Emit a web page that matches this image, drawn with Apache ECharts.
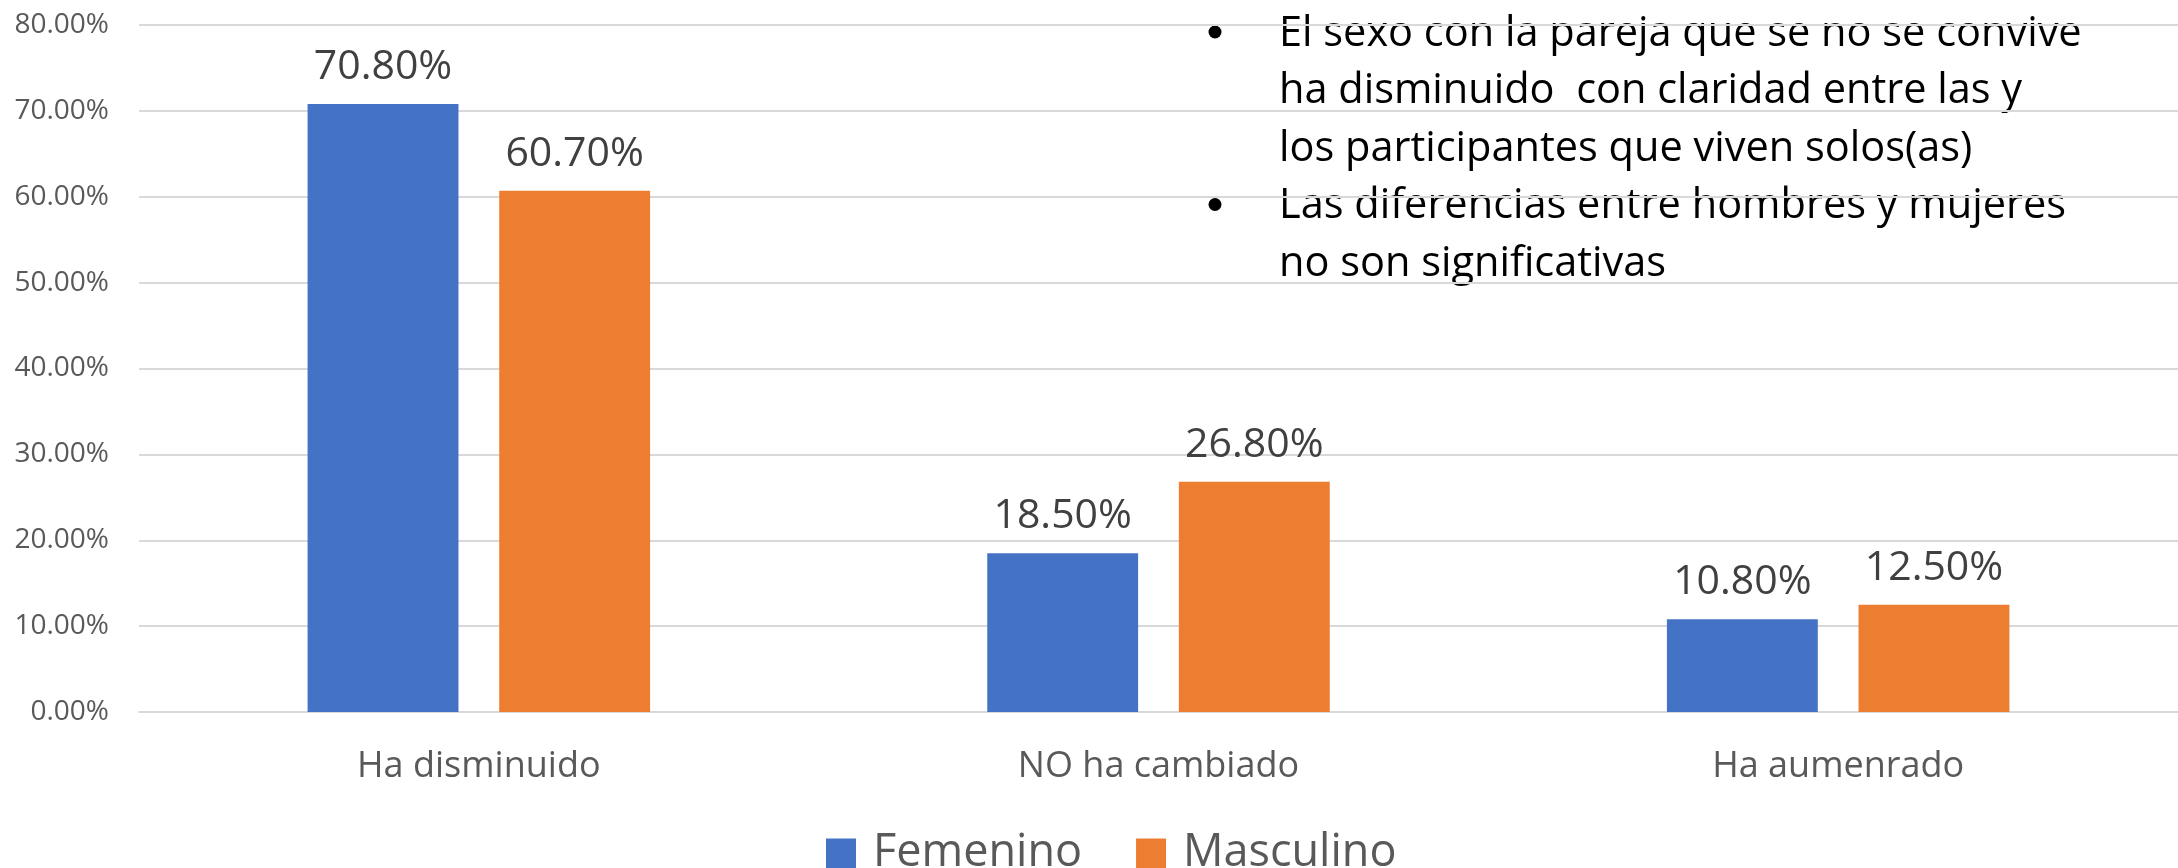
<!DOCTYPE html>
<html>
<head>
<meta charset="utf-8">
<title>Sexo con la pareja</title>
<script src="https://cdn.jsdelivr.net/npm/echarts@6/dist/echarts.min.js"></script>
<style>
    html, body { margin: 0; padding: 0; background: #fff; }
    #bar_sexo { width: 2178px; height: 868px; }
</style>
</head>
<body>
<div id="bar_sexo"></div>
<script>
// 数据
var categories = ['Ha disminuido', 'NO ha cambiado', 'Ha aumenrado'];
var seriesNames = ['Femenino', 'Masculino'];
var femenino = [70.8, 18.5, 10.8];
var masculino = [60.7, 26.8, 12.5];
var yTicks = { min: 0, max: 80, interval: 10 };

// 右上角说明文字（每个圆点一段）
var notes = [
    ['El sexo con la pareja que se no se convive', 'ha disminuido  con claridad entre las y', 'los participantes que viven solos(as)'],
    ['Las diferencias entre hombres y mujeres', 'no son significativas']
];

var FONT = 'Open Sans';

/**
 * 说明文字 graphic 元素
 */
function noteGraphics() {
    var els = [];
    var lineY = 34;
    var lineH = 57.5;
    for (var i = 0; i < notes.length; i++) {
        for (var j = 0; j < notes[i].length; j++) {
            if (j === 0) {
                // 圆点
                els.push({
                    type: 'circle',
                    shape: { cx: 1215, cy: lineY - 2, r: 6.5 },
                    style: { fill: '#000' }
                });
            }
            els.push({
                type: 'text',
                x: 1279,
                y: lineY,
                style: { text: notes[i][j], font: '41.5px "' + FONT + '"', fill: '#000', align: 'left', verticalAlign: 'middle' }
            });
            lineY += lineH;
        }
    }
    return els;
}

function pctLabel(v) {
    return Number(v).toFixed(2) + '%';
}

function drawBar(id) {
    var myChart = echarts.init(document.querySelector(id));
    var labelStyle = {
        show: true,
        position: 'top',
        distance: 16,
        color: '#404040',
        fontFamily: FONT,
        fontSize: 41,
        formatter: function (p) { return pctLabel(p.value); }
    };
    var option = {
        animation: false,
        textStyle: { fontFamily: FONT },
        grid: {
            left: 139,
            right: 0,
            top: 25,
            bottom: 156,
            containLabel: false
        },
        legend: {
            data: seriesNames,
            left: 821,
            top: 826,
            icon: 'rect',
            itemWidth: 30,
            itemHeight: 30,
            itemGap: 54,
            textStyle: {
                color: '#595959',
                fontFamily: FONT,
                fontSize: 45,
                padding: [0, 0, 0, 12]
            }
        },
        xAxis: [{
            type: 'category',
            data: categories,
            axisTick: { show: false },
            axisLine: { lineStyle: { color: '#D9D9D9', width: 2 } },
            axisLabel: {
                color: '#595959',
                fontFamily: FONT,
                fontSize: 36,
                margin: 37
            }
        }],
        yAxis: [{
            type: 'value',
            min: yTicks.min,
            max: yTicks.max,
            interval: yTicks.interval,
            axisTick: { show: false },
            axisLine: { show: false },
            axisLabel: {
                color: '#595959',
                fontFamily: FONT,
                fontSize: 28,
                margin: 30,
                formatter: function (v) { return pctLabel(v); }
            },
            splitLine: { lineStyle: { color: '#D9D9D9', width: 2 } }
        }],
        series: [{
            name: seriesNames[0],
            type: 'bar',
            data: femenino,
            barWidth: '22.2%',
            barGap: '27%',
            itemStyle: { color: '#4472C4' },
            label: labelStyle
        }, {
            name: seriesNames[1],
            type: 'bar',
            data: masculino,
            barWidth: '22.2%',
            barGap: '27%',
            itemStyle: { color: '#ED7D31' },
            label: labelStyle
        }],
        graphic: noteGraphics()
    };
    myChart.setOption(option);
    window.addEventListener('resize', function () {
        myChart.resize();
    });
}

drawBar('#bar_sexo');
</script>
</body>
</html>
